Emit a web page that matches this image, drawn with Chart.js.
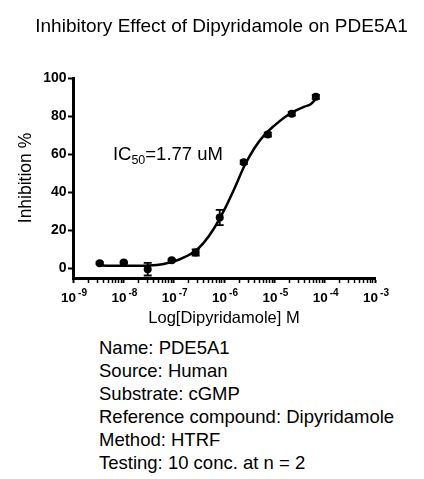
<!DOCTYPE html>
<html>
<head>
<meta charset="utf-8">
<script src="https://cdn.jsdelivr.net/npm/chart.js@4.4.1/dist/chart.umd.min.js"></script>
<style>
  body { margin: 0; background: #fff; }
  #wrap { position: relative; width: 424px; height: 479px; overflow: hidden; }
  #chart { position: absolute; left: 0; top: 0; }
  #info {
    position: absolute; left: 99px; top: 336px;
    font: 18.5px "Liberation Sans", Arial, sans-serif;
    line-height: 23px; color: #000; white-space: nowrap;
  }
</style>
</head>
<body>
<div id="wrap">
  <canvas id="chart" width="424" height="335"></canvas>
  <div id="info"></div>
</div>
<script>
// texts
const TITLE = 'Inhibitory Effect of Dipyridamole on PDE5A1'
const X_TITLE = 'Log[Dipyridamole] M'
const Y_TITLE = 'Inhibition %'
const IC50_TEXT = ['IC', '50', '=1.77 uM']
const INFO_LINES = [
  'Name: PDE5A1',
  'Source: Human',
  'Substrate: cGMP',
  'Reference compound: Dipyridamole',
  'Method: HTRF',
  'Testing: 10 conc. at n = 2'
]

// measured points (concentration in M, % inhibition, error)
const concM = [3.39e-9, 1.02e-8, 3.05e-8, 9.14e-8, 2.74e-7, 8.23e-7, 2.47e-6, 7.41e-6, 2.22e-5, 6.67e-5]
const inhibition = [2.8, 3.1, -0.4, 4.3, 8.4, 26.8, 55.8, 70.3, 81.2, 90.1]
const inhibitionErr = [0.5, 0.5, 3.3, 0.6, 1.6, 4.0, 1.0, 1.0, 1.0, 1.0]

// fitted curve
const curveConcM = [3.39e-9, 1e-8, 3.16e-8, 6.31e-8, 1.26e-7, 2.51e-7, 3.98e-7, 6.31e-7, 1e-6, 1.58e-6, 2.51e-6, 3.98e-6, 6.31e-6, 1e-5, 1.58e-5, 2.51e-5, 3.98e-5, 5.25e-5, 6.67e-5]
const curveInhibition = [1.5, 1.4, 1.6, 2.4, 4.6, 8.6, 13.6, 21.0, 30.5, 41.5, 53.5, 63.0, 70.0, 75.0, 79.3, 82.6, 85.0, 86.2, 89.0]

// axes
const yTicks = [0, 20, 40, 60, 80, 100]
const xMajorTicks = [1e-9, 1e-8, 1e-7, 1e-6, 1e-5, 1e-4, 1e-3]
const xTickExponents = ['-9', '-8', '-7', '-6', '-5', '-4', '-3']
const xMinorSteps = [2, 3, 4, 5, 6, 7, 8, 9]
const IC50_AT = { x: 6.2e-9, y: 57 }

const FONT = '"Liberation Sans", Arial, sans-serif'
Chart.defaults.font.family = FONT
Chart.defaults.color = '#000'

document.getElementById('info').innerHTML = INFO_LINES.map(t => '<div>' + t + '</div>').join('')

const errorBars = {
  id: 'errorBars',
  afterDatasetsDraw (chart) {
    const { ctx, scales: { x, y } } = chart
    ctx.save()
    ctx.strokeStyle = '#000'
    ctx.lineWidth = 1.8
    concM.forEach((c, i) => {
      const px = x.getPixelForValue(c)
      const top = y.getPixelForValue(inhibition[i] + inhibitionErr[i])
      const bot = y.getPixelForValue(inhibition[i] - inhibitionErr[i])
      ctx.beginPath()
      ctx.moveTo(px, top); ctx.lineTo(px, bot)
      ctx.moveTo(px - 4, top); ctx.lineTo(px + 4, top)
      ctx.moveTo(px - 4, bot); ctx.lineTo(px + 4, bot)
      ctx.stroke()
    })
    ctx.restore()
  }
}

const texts = {
  id: 'texts',
  afterDraw (chart) {
    const { ctx, chartArea, scales: { x, y } } = chart
    ctx.save()
    ctx.fillStyle = '#000'
    ctx.textBaseline = 'alphabetic'

    // title
    ctx.font = '19px ' + FONT
    ctx.textAlign = 'center'
    ctx.fillText(TITLE, 221.5, 31.5)

    // x tick labels as 10 with superscript exponent
    ctx.textAlign = 'left'
    xMajorTicks.forEach((v, i) => {
      const px = x.getPixelForValue(v)
      ctx.font = 'bold 13.5px ' + FONT
      const wBase = ctx.measureText('10').width
      ctx.font = 'bold 10px ' + FONT
      const wExp = ctx.measureText(xTickExponents[i]).width
      const left = px - (wBase + 2 + wExp) / 2 + 1
      ctx.font = 'bold 13.5px ' + FONT
      ctx.fillText('10', left, chartArea.bottom + 23.5)
      ctx.font = 'bold 10px ' + FONT
      ctx.fillText(xTickExponents[i], left + wBase + 2, chartArea.bottom + 17.5)
    })

    // x title
    ctx.font = '16.5px ' + FONT
    ctx.textAlign = 'center'
    ctx.fillText(X_TITLE, (chartArea.left + chartArea.right) / 2, chartArea.bottom + 45)

    // y title
    ctx.save()
    ctx.translate(31, (chartArea.top + chartArea.bottom) / 2)
    ctx.rotate(-Math.PI / 2)
    ctx.font = '17.5px ' + FONT
    ctx.fillText(Y_TITLE, 0, 0)
    ctx.restore()

    // IC50 annotation
    let ax = x.getPixelForValue(IC50_AT.x)
    const ay = y.getPixelForValue(IC50_AT.y)
    ctx.textAlign = 'left'
    ctx.font = '18.5px ' + FONT
    ctx.fillText(IC50_TEXT[0], ax, ay)
    ax += ctx.measureText(IC50_TEXT[0]).width
    ctx.font = '12.5px ' + FONT
    ctx.fillText(IC50_TEXT[1], ax, ay + 4)
    ax += ctx.measureText(IC50_TEXT[1]).width
    ctx.font = '18.5px ' + FONT
    ctx.fillText(IC50_TEXT[2], ax, ay)
    ctx.restore()
  }
}

new Chart(document.getElementById('chart'), {
  type: 'scatter',
  data: {
    datasets: [
      {
        type: 'line',
        data: curveConcM.map((c, i) => ({ x: c, y: curveInhibition[i] })),
        borderColor: '#000',
        borderWidth: 2.5,
        pointRadius: 0,
        cubicInterpolationMode: 'monotone',
        fill: false
      },
      {
        data: concM.map((c, i) => ({ x: c, y: inhibition[i] })),
        pointRadius: 4,
        pointBackgroundColor: '#000',
        pointBorderWidth: 0,
        showLine: false
      }
    ]
  },
  options: {
    responsive: false,
    animation: false,
    layout: { padding: { left: 0, top: 78, right: 49, bottom: 0 } },
    plugins: { legend: { display: false }, tooltip: { enabled: false } },
    scales: {
      x: {
        type: 'logarithmic',
        min: xMajorTicks[0],
        max: xMajorTicks[xMajorTicks.length - 1],
        afterBuildTicks: s => {
          const ticks = []
          xMajorTicks.forEach((v, i) => {
            ticks.push({ value: v, major: true })
            if (i < xMajorTicks.length - 1) xMinorSteps.forEach(m => ticks.push({ value: v * m, major: false }))
          })
          s.ticks = ticks
        },
        afterFit: s => { s.height = 57 },
        ticks: { callback: () => '', autoSkip: false, maxRotation: 0 },
        grid: {
          drawOnChartArea: false,
          drawTicks: true,
          tickLength: 5,
          tickColor: '#000',
          tickWidth: c => (c.tick && c.tick.major ? 2 : 1.5)
        },
        border: { display: true, color: '#000', width: 3 }
      },
      y: {
        min: -5,
        max: 100,
        afterBuildTicks: s => { s.ticks = yTicks.map(v => ({ value: v })) },
        afterFit: s => { s.width = 73 },
        ticks: { font: { size: 14, weight: 'bold' }, padding: 1.5, color: '#000' },
        grid: { drawOnChartArea: false, tickLength: 5, tickWidth: 2, tickColor: '#000' },
        border: { display: true, color: '#000', width: 3 }
      }
    }
  },
  plugins: [errorBars, texts]
})
</script>
</body>
</html>
